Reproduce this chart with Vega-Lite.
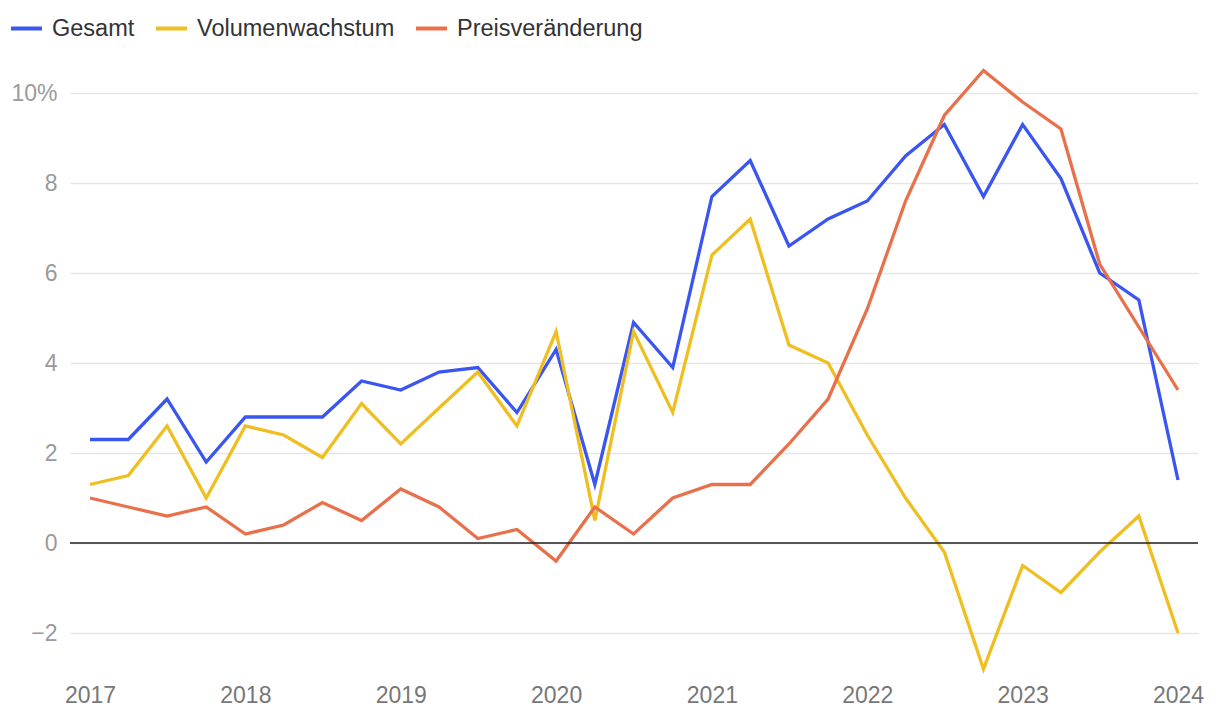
{
  "$schema": "https://vega.github.io/schema/vega-lite/v6.json",
  "width": 1128,
  "height": 621,
  "autosize": {"type": "none"},
  "padding": {"left": 70, "top": 57, "right": 22, "bottom": 38},
  "background": "white",
  "config": {
    "font": "Liberation Sans",
    "view": {"stroke": null}
  },
  "datasets": {
    "series": [
      {"date": "2017-01-01", "Gesamt": 2.3, "Volumenwachstum": 1.3, "Preisveränderung": 1.0},
      {"date": "2017-04-01", "Gesamt": 2.3, "Volumenwachstum": 1.5, "Preisveränderung": 0.8},
      {"date": "2017-07-01", "Gesamt": 3.2, "Volumenwachstum": 2.6, "Preisveränderung": 0.6},
      {"date": "2017-10-01", "Gesamt": 1.8, "Volumenwachstum": 1.0, "Preisveränderung": 0.8},
      {"date": "2018-01-01", "Gesamt": 2.8, "Volumenwachstum": 2.6, "Preisveränderung": 0.2},
      {"date": "2018-04-01", "Gesamt": 2.8, "Volumenwachstum": 2.4, "Preisveränderung": 0.4},
      {"date": "2018-07-01", "Gesamt": 2.8, "Volumenwachstum": 1.9, "Preisveränderung": 0.9},
      {"date": "2018-10-01", "Gesamt": 3.6, "Volumenwachstum": 3.1, "Preisveränderung": 0.5},
      {"date": "2019-01-01", "Gesamt": 3.4, "Volumenwachstum": 2.2, "Preisveränderung": 1.2},
      {"date": "2019-04-01", "Gesamt": 3.8, "Volumenwachstum": 3.0, "Preisveränderung": 0.8},
      {"date": "2019-07-01", "Gesamt": 3.9, "Volumenwachstum": 3.8, "Preisveränderung": 0.1},
      {"date": "2019-10-01", "Gesamt": 2.9, "Volumenwachstum": 2.6, "Preisveränderung": 0.3},
      {"date": "2020-01-01", "Gesamt": 4.3, "Volumenwachstum": 4.7, "Preisveränderung": -0.4},
      {"date": "2020-04-01", "Gesamt": 1.3, "Volumenwachstum": 0.5, "Preisveränderung": 0.8},
      {"date": "2020-07-01", "Gesamt": 4.9, "Volumenwachstum": 4.7, "Preisveränderung": 0.2},
      {"date": "2020-10-01", "Gesamt": 3.9, "Volumenwachstum": 2.9, "Preisveränderung": 1.0},
      {"date": "2021-01-01", "Gesamt": 7.7, "Volumenwachstum": 6.4, "Preisveränderung": 1.3},
      {"date": "2021-04-01", "Gesamt": 8.5, "Volumenwachstum": 7.2, "Preisveränderung": 1.3},
      {"date": "2021-07-01", "Gesamt": 6.6, "Volumenwachstum": 4.4, "Preisveränderung": 2.2},
      {"date": "2021-10-01", "Gesamt": 7.2, "Volumenwachstum": 4.0, "Preisveränderung": 3.2},
      {"date": "2022-01-01", "Gesamt": 7.6, "Volumenwachstum": 2.4, "Preisveränderung": 5.2},
      {"date": "2022-04-01", "Gesamt": 8.6, "Volumenwachstum": 1.0, "Preisveränderung": 7.6},
      {"date": "2022-07-01", "Gesamt": 9.3, "Volumenwachstum": -0.2, "Preisveränderung": 9.5},
      {"date": "2022-10-01", "Gesamt": 7.7, "Volumenwachstum": -2.8, "Preisveränderung": 10.5},
      {"date": "2023-01-01", "Gesamt": 9.3, "Volumenwachstum": -0.5, "Preisveränderung": 9.8},
      {"date": "2023-04-01", "Gesamt": 8.1, "Volumenwachstum": -1.1, "Preisveränderung": 9.2},
      {"date": "2023-07-01", "Gesamt": 6.0, "Volumenwachstum": -0.2, "Preisveränderung": 6.2},
      {"date": "2023-10-01", "Gesamt": 5.4, "Volumenwachstum": 0.6, "Preisveränderung": 4.8},
      {"date": "2024-01-01", "Gesamt": 1.4, "Volumenwachstum": -2.0, "Preisveränderung": 3.4}
    ],
    "zero": [{"z": 0}]
  },
  "layer": [
    {
      "data": {"name": "series"},
      "transform": [
        {"fold": ["Gesamt", "Volumenwachstum", "Preisveränderung"], "as": ["serie", "wert"]}
      ],
      "mark": {"type": "line", "strokeWidth": 3.3, "strokeJoin": "miter", "strokeCap": "butt"},
      "encoding": {
        "x": {
          "field": "date",
          "type": "temporal",
          "scale": {"padding": 20, "nice": false},
          "axis": {
            "title": null,
            "format": "%Y",
            "tickCount": {"interval": "year", "step": 1},
            "grid": false,
            "domain": false,
            "ticks": false,
            "labelFontSize": 23,
            "labelColor": "#777777",
            "labelPadding": 6,
            "labelFont": "Liberation Sans"
          }
        },
        "y": {
          "field": "wert",
          "type": "quantitative",
          "scale": {"domain": [-3, 10.8], "nice": false, "zero": false},
          "axis": {
            "title": null,
            "values": [-2, 0, 2, 4, 6, 8, 10],
            "labelExpr": "datum.value == 10 ? '10%' : (datum.value < 0 ? '−' + abs(datum.value) : '' + datum.value)",
            "grid": true,
            "gridColor": "#e6e6e6",
            "gridWidth": 1.5,
            "domain": false,
            "ticks": false,
            "labelFontSize": 23,
            "labelColor": "#9a9a9a",
            "labelPadding": 13,
            "labelFont": "Liberation Sans"
          }
        },
        "color": {
          "field": "serie",
          "type": "nominal",
          "scale": {
            "domain": ["Gesamt", "Volumenwachstum", "Preisveränderung"],
            "range": ["#3a55f0", "#efbf22", "#e8704b"]
          },
          "legend": {
            "title": null,
            "orient": "none",
            "legendX": -61,
            "legendY": -46,
            "direction": "horizontal",
            "symbolType": "stroke",
            "symbolSize": 961,
            "symbolStrokeWidth": 4,
            "labelFontSize": 23.5,
            "labelColor": "#333333",
            "labelFont": "Liberation Sans",
            "labelLimit": 0,
            "labelOffset": 8,
            "columnPadding": 13
          }
        }
      }
    },
    {
      "data": {"name": "zero"},
      "mark": {"type": "rule", "color": "#222222", "strokeWidth": 1.5},
      "encoding": {
        "y": {"field": "z", "type": "quantitative"}
      }
    }
  ]
}
